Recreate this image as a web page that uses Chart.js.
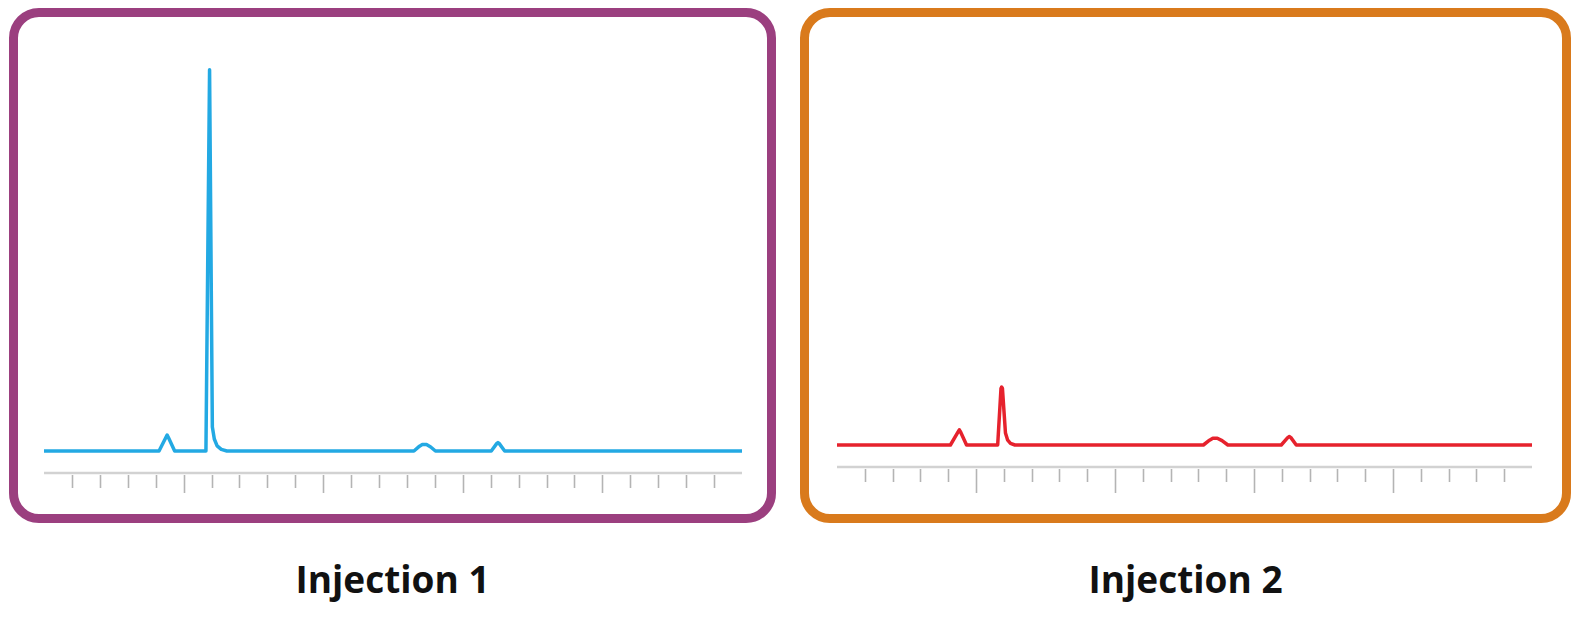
<!DOCTYPE html>
<html>
<head>
<meta charset="utf-8">
<script src="https://cdn.jsdelivr.net/npm/chart.js@4"></script>
<style>
  html, body { margin: 0; padding: 0; background: #fff; }
  body { width: 1581px; height: 619px; position: relative; overflow: hidden; font-family: 'Open Sans', 'Noto Sans', sans-serif; }
  .box { position: absolute; box-sizing: border-box; border: 9px solid; border-radius: 30px; }
  .plot { position: absolute; z-index: 2; }
  .cap { position: absolute; top: 560px; font-size: 37px; line-height: 37px; font-weight: 700; color: #111; text-align: center; }
</style>
</head>
<body>
<div class="box" style="left:9px; top:8px; width:767px; height:515px; border-color:#9b3f7f;"></div>
<div class="box" style="left:800px; top:8px; width:771px; height:515px; border-color:#d97a1c;"></div>
<div class="plot" style="left:9px; top:8px; width:767px; height:515px;"><canvas id="inj1"></canvas></div>
<div class="plot" style="left:800px; top:8px; width:771px; height:515px;"><canvas id="inj2"></canvas></div>
<div class="cap" style="left:9px; width:767px;">Injection 1</div>
<div class="cap" style="left:800px; width:771px;">Injection 2</div>

<script>
// ==========================================
// data (time = min, signal = arbitrary units)
// ==========================================
const tickMinutes = [1, 2, 3, 4, 5, 6, 7, 8, 9, 10, 11, 12, 13, 14, 15, 16, 17, 18, 19, 20, 21, 22, 23, 24];
const majorMinutes = [5, 10, 15, 20];

const inj1Time   = [0, 4.12, 4.36, 4.41, 4.46, 4.68, 5.8, 5.93, 6.03, 6.1, 6.2, 6.35, 6.55, 13.25, 13.45, 13.55, 13.7, 13.85, 14.02, 16.02, 16.22, 16.26, 16.3, 16.5, 25];
const inj1Signal = [0, 0,    3.3,  4.0,  3.3,  0,    0,   95.3, 6.0,  3.0, 1.3, 0.4,  0,    0,     1.2,   1.6,   1.6,  1.0,   0,     0,     1.9,   2.1,   1.9,  0,    0];

const inj2Time   = [0, 4.08, 4.35, 4.4, 4.45, 4.66, 5.78, 5.9, 5.92, 5.95, 6.06, 6.14, 6.24, 6.4, 13.18, 13.4, 13.52, 13.68, 13.85, 14.06, 15.98, 16.22, 16.27, 16.32, 16.52, 25];
const inj2Signal = [0, 0,    3.2,  3.8, 3.2,  0,    0,    14.2, 14.5, 14.2, 3.0,  1.2,  0.4,  0,   0,     1.2,  1.7,   1.7,   1.1,   0,     0,     1.9,   2.1,   1.9,   0,     0];

// ==========================================
// axis line + tick marks drawn from the x scale
// ==========================================
const tickAxis = {
  id: 'tickAxis',
  afterDraw(chart, args, opt) {
    const xs = chart.scales.x, ys = chart.scales.y, ctx = chart.ctx;
    const y0 = ys.getPixelForValue(opt.at);
    ctx.save();
    ctx.strokeStyle = '#d2d2d2'; ctx.lineWidth = 2.5;
    ctx.beginPath(); ctx.moveTo(xs.getPixelForValue(xs.min), y0); ctx.lineTo(xs.getPixelForValue(xs.max), y0); ctx.stroke();
    ctx.strokeStyle = '#b4b4b4'; ctx.lineWidth = 1.6;
    xs.ticks.forEach(t => {
      const px = Math.round(xs.getPixelForValue(t.value)) + 0.5;
      const len = t.major ? opt.majorLen : opt.minorLen;
      ctx.beginPath(); ctx.moveTo(px, y0 + 2); ctx.lineTo(px, y0 + len); ctx.stroke();
    });
    ctx.restore();
  }
};

function makeChart(id, time, signal, color, pad, majorLen) {
  return new Chart(document.getElementById(id), {
    type: 'line',
    data: { datasets: [{ data: time.map((t, i) => ({ x: t, y: signal[i] })), borderColor: color, borderWidth: 3.5, pointRadius: 0, tension: 0, borderJoinStyle: 'round', borderCapStyle: 'round', fill: false }] },
    options: {
      responsive: true, maintainAspectRatio: false, animation: false, devicePixelRatio: 1,
      layout: { padding: pad },
      scales: {
        x: { type: 'linear', min: 0, max: 25, display: false,
             afterBuildTicks: s => { s.ticks = tickMinutes.map(v => ({ value: v, major: majorMinutes.includes(v) })); } },
        y: { min: -12, max: 100, display: false }
      },
      plugins: { legend: { display: false }, tooltip: { enabled: false }, tickAxis: { at: -5.5, minorLen: 15, majorLen: majorLen } }
    },
    plugins: [tickAxis]
  });
}

makeChart('inj1', inj1Time, inj1Signal, '#23a9e3', { left: 35, right: 34, top: 43, bottom: 24 }, 20);
makeChart('inj2', inj2Time, inj2Signal, '#e6222d', { left: 37, right: 39, top: 37, bottom: 30 }, 26);
</script>
</body>
</html>
